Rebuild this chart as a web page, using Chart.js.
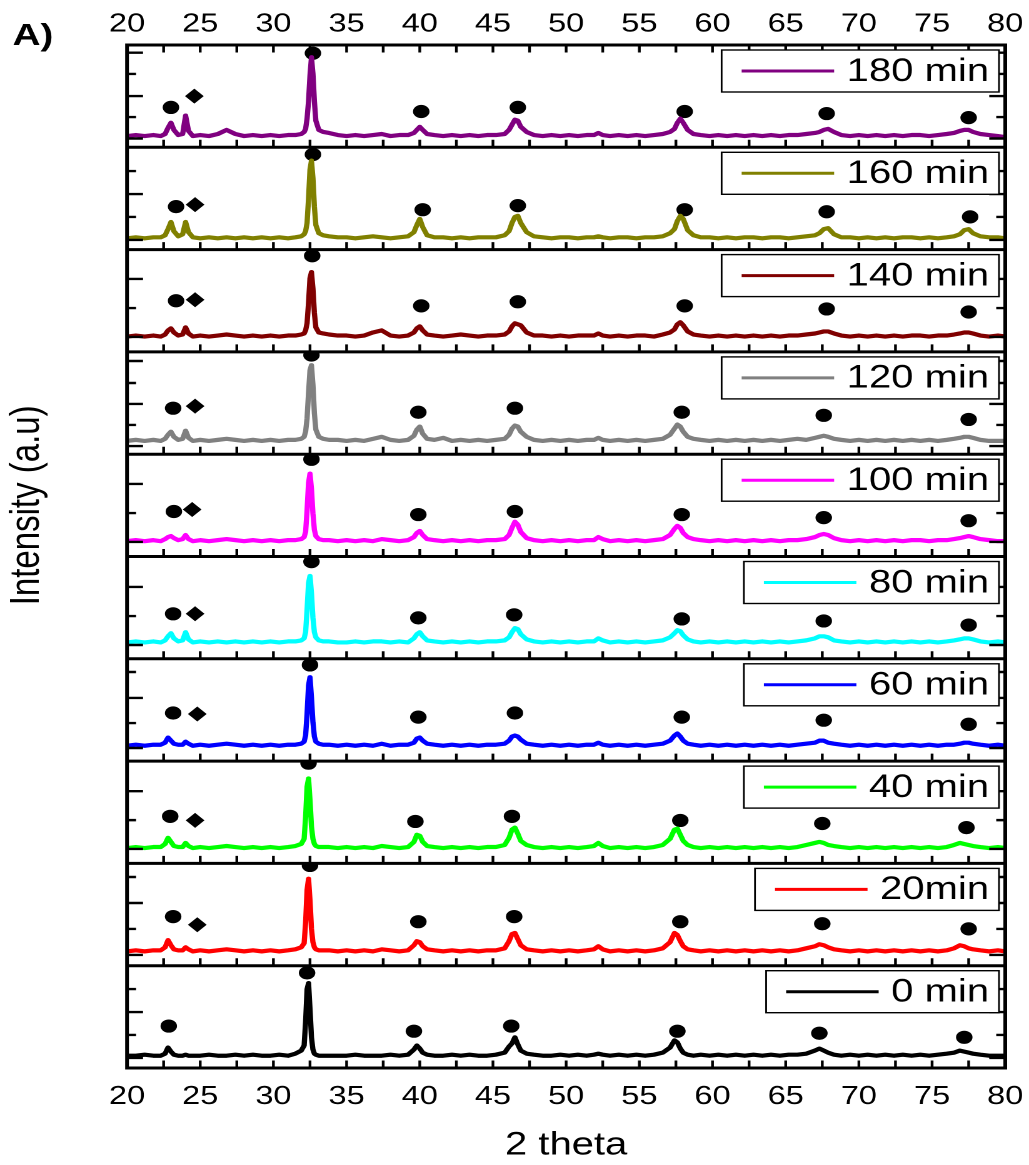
<!DOCTYPE html>
<html>
<head>
<meta charset="utf-8">
<script src="https://cdn.jsdelivr.net/npm/chart.js@4.4.1/dist/chart.umd.min.js"></script>
<style>
  html, body { margin: 0; padding: 0; background: #fff; overflow: hidden; }
  /* the reference picture is stretched sideways, so the chart is drawn narrow and widened */
  #wrap { width: 823px; height: 1165px; transform: scaleX(1.2503); transform-origin: 0 0; }
</style>
</head>
<body>
<div id="wrap"><canvas id="xrd" width="823" height="1165" style="width:823px;height:1165px"></canvas></div>
<script>
// 2 theta positions (deg)
const twoTheta = [
  20.0, 20.6, 21.2, 21.8, 22.3, 22.6, 22.8, 23.0, 23.2, 23.5,
  23.8, 24.0, 24.2, 24.5, 25.0, 25.6, 26.2, 26.8, 27.4, 28.0,
  28.6, 29.2, 29.8, 30.4, 31.0, 31.5, 31.9, 32.1, 32.2, 32.3,
  32.4, 32.5, 32.6, 32.7, 32.8, 32.9, 33.1, 33.4, 33.8, 34.4,
  35.0, 35.6, 36.2, 36.8, 37.4, 38.0, 38.6, 39.2, 39.6, 39.8,
  40.0, 40.2, 40.5, 41.0, 41.6, 42.2, 42.8, 43.4, 44.0, 44.6,
  45.2, 45.8, 46.1, 46.3, 46.5, 46.7, 46.9, 47.3, 47.8, 48.4,
  49.0, 49.6, 50.2, 50.8, 51.4, 51.9, 52.2, 52.5, 53.0, 53.6,
  54.2, 54.8, 55.4, 56.0, 56.6, 57.1, 57.4, 57.6, 57.8, 58.0,
  58.3, 58.7, 59.2, 59.8, 60.4, 61.0, 61.6, 62.2, 62.8, 63.4,
  64.0, 64.6, 65.2, 65.8, 66.4, 67.0, 67.3, 67.6, 67.9, 68.3,
  68.8, 69.4, 70.0, 70.6, 71.2, 71.8, 72.4, 73.0, 73.6, 74.2,
  74.8, 75.4, 76.0, 76.5, 76.9, 77.2, 77.5, 77.8, 78.3, 78.9,
  79.5, 80.0
];

// intensities, each in its own panel (a.u.)
const i180 = [
  11, 12, 11, 12, 11, 13, 19, 24, 17, 12,
  13, 31, 16, 11, 12, 11, 13, 17, 13, 11,
  12, 11, 12, 11, 12, 12, 13, 15, 18, 28,
  45, 70, 88, 72, 45, 26, 17, 15, 14, 12,
  11, 12, 11, 12, 13, 11, 12, 12, 14, 17,
  20, 17, 13, 12, 11, 12, 11, 12, 11, 12,
  12, 13, 17, 22, 27, 26, 20, 15, 12, 11,
  12, 11, 12, 11, 12, 12, 14, 12, 11, 12,
  11, 12, 11, 12, 13, 15, 18, 24, 28, 24,
  17, 13, 12, 11, 12, 11, 12, 11, 12, 11,
  12, 11, 12, 12, 13, 14, 15, 17, 18, 15,
  12, 11, 12, 11, 12, 11, 12, 11, 12, 12,
  11, 12, 13, 14, 16, 17, 17, 15, 13, 12,
  11, 10
];
const i160 = [
  11, 12, 11, 12, 12, 14, 20, 27, 18, 13,
  15, 27, 17, 12, 11, 12, 11, 12, 11, 12,
  11, 12, 11, 12, 11, 12, 13, 15, 18, 26,
  50, 78, 87, 70, 42, 24, 16, 14, 13, 12,
  12, 11, 12, 13, 12, 11, 12, 13, 17, 24,
  30, 22, 14, 12, 12, 11, 12, 11, 12, 12,
  12, 14, 18, 26, 32, 33, 26, 17, 13, 12,
  11, 12, 12, 11, 12, 12, 13, 12, 11, 12,
  12, 11, 12, 12, 13, 16, 20, 28, 33, 30,
  19, 14, 12, 12, 11, 12, 11, 12, 12, 11,
  12, 12, 11, 12, 13, 14, 16, 20, 21, 15,
  12, 12, 11, 12, 11, 12, 11, 12, 12, 11,
  12, 11, 12, 13, 15, 19, 20, 16, 13, 12,
  12, 11
];
const i140 = [
  15, 16, 15, 16, 15, 17, 21, 23, 19, 16,
  17, 24, 18, 15, 16, 15, 16, 17, 16, 15,
  16, 15, 16, 15, 16, 16, 17, 18, 21, 28,
  48, 72, 78, 62, 38, 24, 19, 18, 17, 16,
  16, 15, 16, 19, 21, 16, 15, 16, 19, 23,
  25, 21, 17, 16, 15, 16, 17, 16, 15, 16,
  16, 17, 20, 25, 28, 27, 26, 19, 16, 16,
  15, 16, 15, 16, 16, 16, 18, 16, 15, 16,
  15, 16, 16, 15, 17, 19, 22, 27, 29, 26,
  20, 17, 16, 15, 16, 15, 16, 15, 16, 15,
  16, 15, 16, 16, 17, 18, 19, 20, 20, 18,
  16, 15, 16, 15, 16, 15, 16, 15, 16, 16,
  15, 16, 16, 17, 18, 19, 19, 18, 16, 15,
  16, 15
];
const i120 = [
  13, 14, 13, 14, 13, 15, 19, 22, 17, 14,
  15, 23, 16, 13, 14, 13, 14, 15, 14, 13,
  14, 13, 14, 13, 14, 14, 15, 17, 22, 35,
  60, 82, 87, 68, 40, 24, 17, 15, 14, 14,
  13, 14, 13, 15, 17, 14, 13, 14, 18, 24,
  27, 20, 15, 14, 16, 13, 14, 13, 14, 13,
  14, 15, 19, 25, 28, 27, 22, 17, 14, 13,
  14, 13, 14, 13, 14, 14, 16, 14, 13, 14,
  13, 14, 13, 14, 15, 19, 25, 29, 27, 22,
  17, 15, 14, 13, 14, 13, 14, 13, 14, 13,
  14, 13, 14, 15, 14, 16, 17, 18, 17, 15,
  14, 13, 14, 13, 14, 13, 14, 13, 14, 13,
  14, 13, 14, 15, 16, 17, 17, 16, 14, 13,
  13, 13
];
const i100 = [
  15, 16, 15, 16, 15, 17, 19, 20, 18, 16,
  17, 21, 17, 15, 16, 15, 16, 17, 16, 15,
  16, 15, 16, 15, 16, 16, 17, 19, 24, 45,
  72, 81, 66, 42, 26, 20, 17, 16, 16, 15,
  16, 15, 16, 15, 17, 16, 15, 16, 19, 23,
  25, 21, 17, 16, 15, 16, 15, 16, 15, 16,
  16, 17, 21, 28, 34, 31, 24, 18, 16, 15,
  16, 15, 16, 15, 16, 16, 19, 17, 15, 16,
  15, 16, 15, 16, 17, 21, 27, 30, 28, 23,
  19, 17, 16, 15, 16, 15, 16, 15, 16, 15,
  16, 15, 16, 16, 17, 19, 21, 22, 21, 18,
  16, 15, 16, 15, 16, 15, 16, 15, 16, 16,
  15, 16, 16, 17, 18, 19, 20, 19, 17, 16,
  15, 15
];
const i80 = [
  16, 17, 16, 17, 16, 18, 22, 25, 20, 17,
  18, 26, 19, 16, 17, 16, 17, 16, 17, 16,
  17, 16, 17, 16, 17, 17, 18, 20, 26, 48,
  74, 81, 64, 40, 26, 21, 18, 17, 17, 16,
  16, 17, 16, 17, 17, 16, 17, 16, 20, 24,
  26, 22, 18, 17, 16, 17, 16, 17, 16, 17,
  17, 18, 21, 26, 30, 29, 24, 19, 17, 16,
  17, 16, 17, 16, 17, 17, 20, 18, 16, 17,
  16, 17, 16, 17, 18, 21, 25, 28, 27, 23,
  19, 17, 16, 17, 16, 17, 16, 17, 16, 17,
  16, 17, 16, 17, 18, 20, 22, 22, 21, 18,
  17, 16, 17, 16, 17, 16, 17, 16, 17, 16,
  17, 16, 17, 18, 19, 20, 20, 19, 17, 16,
  17, 16
];
const i60 = [
  15, 16, 15, 16, 16, 18, 23, 20, 17, 16,
  16, 19, 17, 15, 16, 15, 16, 17, 16, 15,
  16, 15, 16, 15, 16, 16, 17, 19, 25, 46,
  74, 82, 62, 38, 24, 19, 17, 16, 16, 15,
  16, 15, 16, 15, 17, 15, 16, 16, 18, 22,
  23, 20, 17, 16, 15, 16, 15, 16, 15, 16,
  16, 17, 20, 24, 25, 24, 21, 17, 16, 15,
  16, 15, 16, 15, 16, 16, 18, 16, 15, 16,
  15, 16, 15, 16, 17, 20, 25, 27, 24, 20,
  17, 16, 15, 16, 15, 16, 15, 16, 15, 16,
  15, 16, 15, 16, 17, 18, 20, 20, 18, 17,
  16, 15, 16, 15, 16, 15, 16, 15, 16, 15,
  16, 15, 16, 16, 17, 18, 18, 17, 16, 15,
  16, 15
];
const i40 = [
  15, 16, 15, 16, 16, 19, 25, 21, 17, 16,
  16, 20, 17, 15, 16, 15, 16, 17, 16, 15,
  16, 15, 16, 15, 16, 17, 19, 24, 45, 75,
  83, 62, 36, 24, 19, 17, 16, 16, 16, 15,
  16, 15, 16, 15, 17, 16, 15, 16, 21, 28,
  27, 21, 17, 16, 15, 16, 15, 16, 15, 16,
  16, 18, 25, 33, 35, 29, 22, 18, 16, 15,
  16, 15, 16, 15, 16, 17, 20, 17, 15, 16,
  15, 16, 15, 16, 18, 24, 33, 34, 28, 22,
  18, 16, 15, 16, 15, 16, 15, 16, 15, 16,
  15, 16, 15, 16, 18, 20, 21, 20, 18, 17,
  16, 15, 16, 15, 16, 15, 16, 15, 16, 15,
  16, 15, 16, 18, 20, 19, 18, 17, 16, 15,
  16, 15
];
const i20 = [
  14, 15, 14, 15, 15, 18, 25, 20, 16, 15,
  15, 18, 16, 14, 15, 14, 15, 16, 15, 14,
  15, 14, 15, 14, 15, 16, 18, 22, 42, 74,
  85, 64, 36, 23, 18, 16, 15, 15, 15, 14,
  15, 14, 15, 14, 16, 15, 14, 15, 20, 24,
  23, 19, 16, 15, 14, 15, 14, 15, 14, 15,
  15, 17, 24, 31, 32, 26, 20, 16, 15, 14,
  15, 14, 15, 14, 15, 16, 19, 16, 14, 15,
  14, 15, 14, 15, 17, 23, 32, 30, 24, 19,
  16, 15, 14, 15, 14, 15, 14, 15, 14, 15,
  14, 15, 14, 15, 17, 19, 21, 20, 18, 16,
  15, 14, 15, 14, 15, 14, 15, 14, 15, 14,
  15, 14, 15, 17, 20, 19, 17, 16, 15, 14,
  15, 14
];
const i0 = [
  12, 12, 13, 12, 12, 14, 20, 16, 13, 12,
  12, 13, 12, 12, 12, 13, 12, 12, 13, 12,
  13, 12, 12, 13, 12, 14, 17, 22, 45, 77,
  83, 58, 30, 18, 14, 13, 12, 12, 12, 12,
  12, 13, 12, 12, 12, 13, 12, 13, 18, 22,
  19, 15, 13, 12, 12, 13, 12, 13, 12, 12,
  13, 15, 21, 24, 30, 23, 17, 14, 13, 12,
  12, 13, 12, 13, 12, 13, 14, 13, 12, 13,
  12, 13, 12, 13, 15, 20, 27, 25, 19, 15,
  13, 12, 13, 12, 13, 12, 13, 12, 13, 12,
  13, 12, 13, 13, 14, 17, 19, 17, 15, 13,
  12, 13, 12, 13, 12, 13, 12, 13, 12, 13,
  12, 13, 14, 15, 17, 16, 15, 14, 13, 12,
  12, 12
];

// phase markers: [2 theta, intensity, kind] c = circle, d = diamond
const m180 = [[23.0, 39, 'c'], [24.6, 50, 'd'], [32.7, 92, 'c'], [40.1, 35, 'c'], [46.7, 39, 'c'], [58.1, 35, 'c'], [67.8, 33, 'c'], [77.5, 29, 'c']];
const m160 = [[23.35, 42, 'c'], [24.65, 44, 'd'], [32.7, 93, 'c'], [40.2, 39, 'c'], [46.7, 43, 'c'], [58.1, 39, 'c'], [67.8, 37, 'c'], [77.6, 32, 'c']];
const m140 = [[23.35, 50, 'c'], [24.65, 51, 'd'], [32.65, 94, 'c'], [40.1, 45, 'c'], [46.7, 49, 'c'], [58.1, 45, 'c'], [67.8, 42, 'c'], [77.5, 39, 'c']];
const m120 = [[23.15, 45, 'c'], [24.65, 47, 'd'], [32.6, 97, 'c'], [39.9, 41, 'c'], [46.5, 45, 'c'], [57.9, 41, 'c'], [67.6, 38, 'c'], [77.5, 34, 'c']];
const m100 = [[23.2, 44, 'c'], [24.45, 46, 'd'], [32.6, 95, 'c'], [39.9, 41, 'c'], [46.5, 44, 'c'], [57.9, 41, 'c'], [67.6, 38, 'c'], [77.5, 35, 'c']];
const m80 = [[23.15, 44, 'c'], [24.65, 44, 'd'], [32.6, 95, 'c'], [39.9, 40, 'c'], [46.45, 43, 'c'], [57.9, 39, 'c'], [67.6, 37, 'c'], [77.5, 33, 'c']];
const m60 = [[23.15, 47, 'c'], [24.8, 46, 'd'], [32.5, 94, 'c'], [39.9, 43, 'c'], [46.5, 47, 'c'], [57.9, 43, 'c'], [67.6, 40, 'c'], [77.5, 36, 'c']];
const m40 = [[22.95, 46, 'c'], [24.65, 42, 'd'], [32.4, 98, 'c'], [39.7, 41, 'c'], [46.3, 46, 'c'], [57.8, 42, 'c'], [67.5, 39, 'c'], [77.35, 35, 'c']];
const m20 = [[23.15, 48, 'c'], [24.8, 40, 'd'], [32.5, 98, 'c'], [39.9, 43, 'c'], [46.45, 48, 'c'], [57.8, 43, 'c'], [67.5, 41, 'c'], [77.5, 36, 'c']];
const m0 = [[22.85, 41, 'c'], [32.3, 93, 'c'], [39.6, 36, 'c'], [46.25, 41, 'c'], [57.6, 36, 'c'], [67.3, 34, 'c'], [77.2, 30, 'c']];

// left/right tick marks of each panel (lowest is a long one, then alternating)
const t180 = [8.6, 29.6, 50.1, 71.7, 92.5];
const t160 = [9.4, 31.9, 54.3, 76.8];
const t140 = [14.6, 42.9, 71.3];
const t120 = [8.0, 28.6, 49.1, 69.6, 91.1];
const t100 = [14.2, 42.5, 70.9];
const t80 = [13.5, 41.8, 70.2];
const t60 = [12.8, 37.2, 61.7, 87.1];
const t40 = [14.1, 42.3, 70.6];
const t20 = [10.5, 35.9, 61.3, 86.7];
const t0 = [9.8, 32.3, 54.7, 77.2];

const seriesLabels = ['180 min', '160 min', '140 min', '120 min', '100 min', '80 min', '60 min', '40 min', '20min', '0 min'];
const seriesColors = ['#800080', '#808000', '#800000', '#808080', '#ff00ff', '#00ffff', '#0000ff', '#00ff00', '#ff0000', '#000000'];
const seriesValues = [i180, i160, i140, i120, i100, i80, i60, i40, i20, i0];
const seriesMarks = [m180, m160, m140, m120, m100, m80, m60, m40, m20, m0];
const seriesTicks = [t180, t160, t140, t120, t100, t80, t60, t40, t20, t0];
const xTicks = [20, 25, 30, 35, 40, 45, 50, 55, 60, 65, 70, 75, 80];

const FONT = '"Liberation Sans", Arial, sans-serif';
const AXIS_W = 101.6;

const datasets = [];
const scales = {
  x: {
    type: 'linear', position: 'bottom', min: 20, max: 80,
    afterBuildTicks: s => { s.ticks = xTicks.map(v => ({ value: v })); },
    afterFit: s => { s.height = 97; s.paddingLeft = 0; s.paddingRight = 0; },
    grid: { display: false, drawTicks: false },
    border: { display: false },
    ticks: { color: '#000', padding: 13, maxRotation: 0, font: { family: FONT, size: 26 } },
    title: { display: true, text: '2 theta', color: '#000', padding: { top: 0, bottom: 0 }, font: { family: FONT, size: 32 } }
  },
  x2: {
    type: 'linear', position: 'top', min: 20, max: 80,
    afterBuildTicks: s => { s.ticks = xTicks.map(v => ({ value: v })); },
    afterFit: s => { s.height = 45; s.paddingLeft = 0; s.paddingRight = 0; },
    grid: { display: false, drawTicks: false },
    border: { display: false },
    ticks: { color: '#000', padding: 5, maxRotation: 0, font: { family: FONT, size: 26 } }
  }
};

seriesLabels.forEach((label, i) => {
  const id = 'y' + i;
  scales[id] = {
    type: 'linear', position: 'left', stack: 'panels', stackWeight: 1, weight: 10 - i,
    min: 0, max: 100,
    afterBuildTicks: s => { s.ticks = seriesTicks[i].map(v => ({ value: v })); },
    afterFit: s => { s.width = AXIS_W; s.paddingTop = 0; s.paddingBottom = 0; },
    grid: { display: false, drawTicks: false },
    border: { display: false },
    ticks: { display: false },
    title: {
      display: i === 4, text: 'Intensity (a.u)', color: '#000',
      padding: { top: 2, bottom: 0 }, font: { family: FONT, size: 33 }
    }
  };
  datasets.push({
    label: label,
    isTrace: true,
    data: twoTheta.map((t, k) => ({ x: t, y: seriesValues[i][k] })),
    yAxisID: id, xAxisID: 'x',
    borderColor: seriesColors[i],
    borderWidth: 4.2,
    borderJoinStyle: 'round',
    borderCapStyle: 'round',
    pointRadius: 0,
    tension: 0,
    fill: false
  });
  datasets.push({
    label: label + ' peaks',
    data: seriesMarks[i].map(m => ({ x: m[0], y: m[1], kind: m[2] })),
    yAxisID: id, xAxisID: 'x',
    showLine: false,
    pointStyle: c => c.raw && c.raw.kind === 'd' ? 'rectRot' : 'circle',
    pointRadius: c => c.raw && c.raw.kind === 'd' ? 7.5 : 6.6,
    pointBackgroundColor: '#000',
    pointBorderColor: '#000',
    pointBorderWidth: 0
  });
});

// frame, panel separators and inward tick marks
const framePlugin = {
  id: 'frame',
  afterDatasetsDraw(chart) {
    const { ctx, chartArea: a } = chart;
    const xs = chart.scales.x;
    const minor = [];
    for (let v = xs.min; v <= xs.max + 1e-9; v += 2.5) minor.push(xs.getPixelForValue(v));
    ctx.save();
    ctx.strokeStyle = '#000';
    ctx.lineCap = 'butt';
    seriesLabels.forEach((l, i) => {
      const ys = chart.scales['y' + i];
      ctx.lineWidth = 2.4;
      ctx.beginPath();
      ys.ticks.forEach((t, k) => {
        const py = ys.getPixelForValue(t.value);
        const len = k % 2 === 0 ? 12.8 : 7.2;
        ctx.moveTo(a.left, py); ctx.lineTo(a.left + len, py);
        ctx.moveTo(a.right, py); ctx.lineTo(a.right - len, py);
      });
      ctx.stroke();
      ctx.lineWidth = 2.2;
      ctx.beginPath();
      minor.forEach(px => { ctx.moveTo(px, ys.bottom); ctx.lineTo(px, ys.bottom - 7.5); });
      ctx.stroke();
      if (i < seriesLabels.length - 1) {
        ctx.lineWidth = 3;
        ctx.beginPath();
        ctx.moveTo(a.left, ys.bottom); ctx.lineTo(a.right, ys.bottom);
        ctx.stroke();
      }
    });
    ctx.lineWidth = 2.2;
    ctx.beginPath();
    minor.forEach(px => { ctx.moveTo(px, a.top); ctx.lineTo(px, a.top + 7.5); });
    ctx.stroke();
    ctx.lineWidth = 3;
    ctx.strokeRect(a.left, a.top, a.right - a.left, a.bottom - a.top);
    ctx.restore();
  },
  afterDraw(chart) {
    const { ctx, chartArea: a } = chart;
    ctx.save();
    chart.data.datasets.filter(d => d.isTrace).forEach(ds => {
      const ys = chart.scales[ds.yAxisID];
      ctx.font = '32px ' + FONT;
      const tw = ctx.measureText(ds.label).width;
      const w = 16 + 74 + 10 + tw + 8;
      const h = 42;
      const bx = a.right - 5 - w;
      const by = ys.top + 5;
      ctx.fillStyle = '#fff';
      ctx.fillRect(bx, by, w, h);
      ctx.lineWidth = 1.4;
      ctx.strokeStyle = '#000';
      ctx.strokeRect(bx, by, w, h);
      ctx.lineWidth = 3;
      ctx.strokeStyle = ds.borderColor;
      ctx.beginPath();
      ctx.moveTo(bx + 16, by + h / 2); ctx.lineTo(bx + 90, by + h / 2);
      ctx.stroke();
      ctx.fillStyle = '#000';
      ctx.textBaseline = 'middle';
      ctx.textAlign = 'left';
      ctx.fillText(ds.label, bx + 100, by + h / 2 + 1);
    });
    ctx.font = 'bold 31px ' + FONT;
    ctx.fillStyle = '#000';
    ctx.textBaseline = 'alphabetic';
    ctx.fillText('A)', 10, 45);
    ctx.restore();
  }
};

new Chart(document.getElementById('xrd'), {
  type: 'line',
  data: { datasets: datasets },
  options: {
    responsive: false,
    devicePixelRatio: 2,
    animation: false,
    events: [],
    layout: { padding: { left: 0, right: 19, top: 0, bottom: 0 } },
    plugins: { legend: { display: false }, tooltip: { enabled: false } },
    scales: scales
  },
  plugins: [framePlugin]
});
</script>
</body>
</html>
